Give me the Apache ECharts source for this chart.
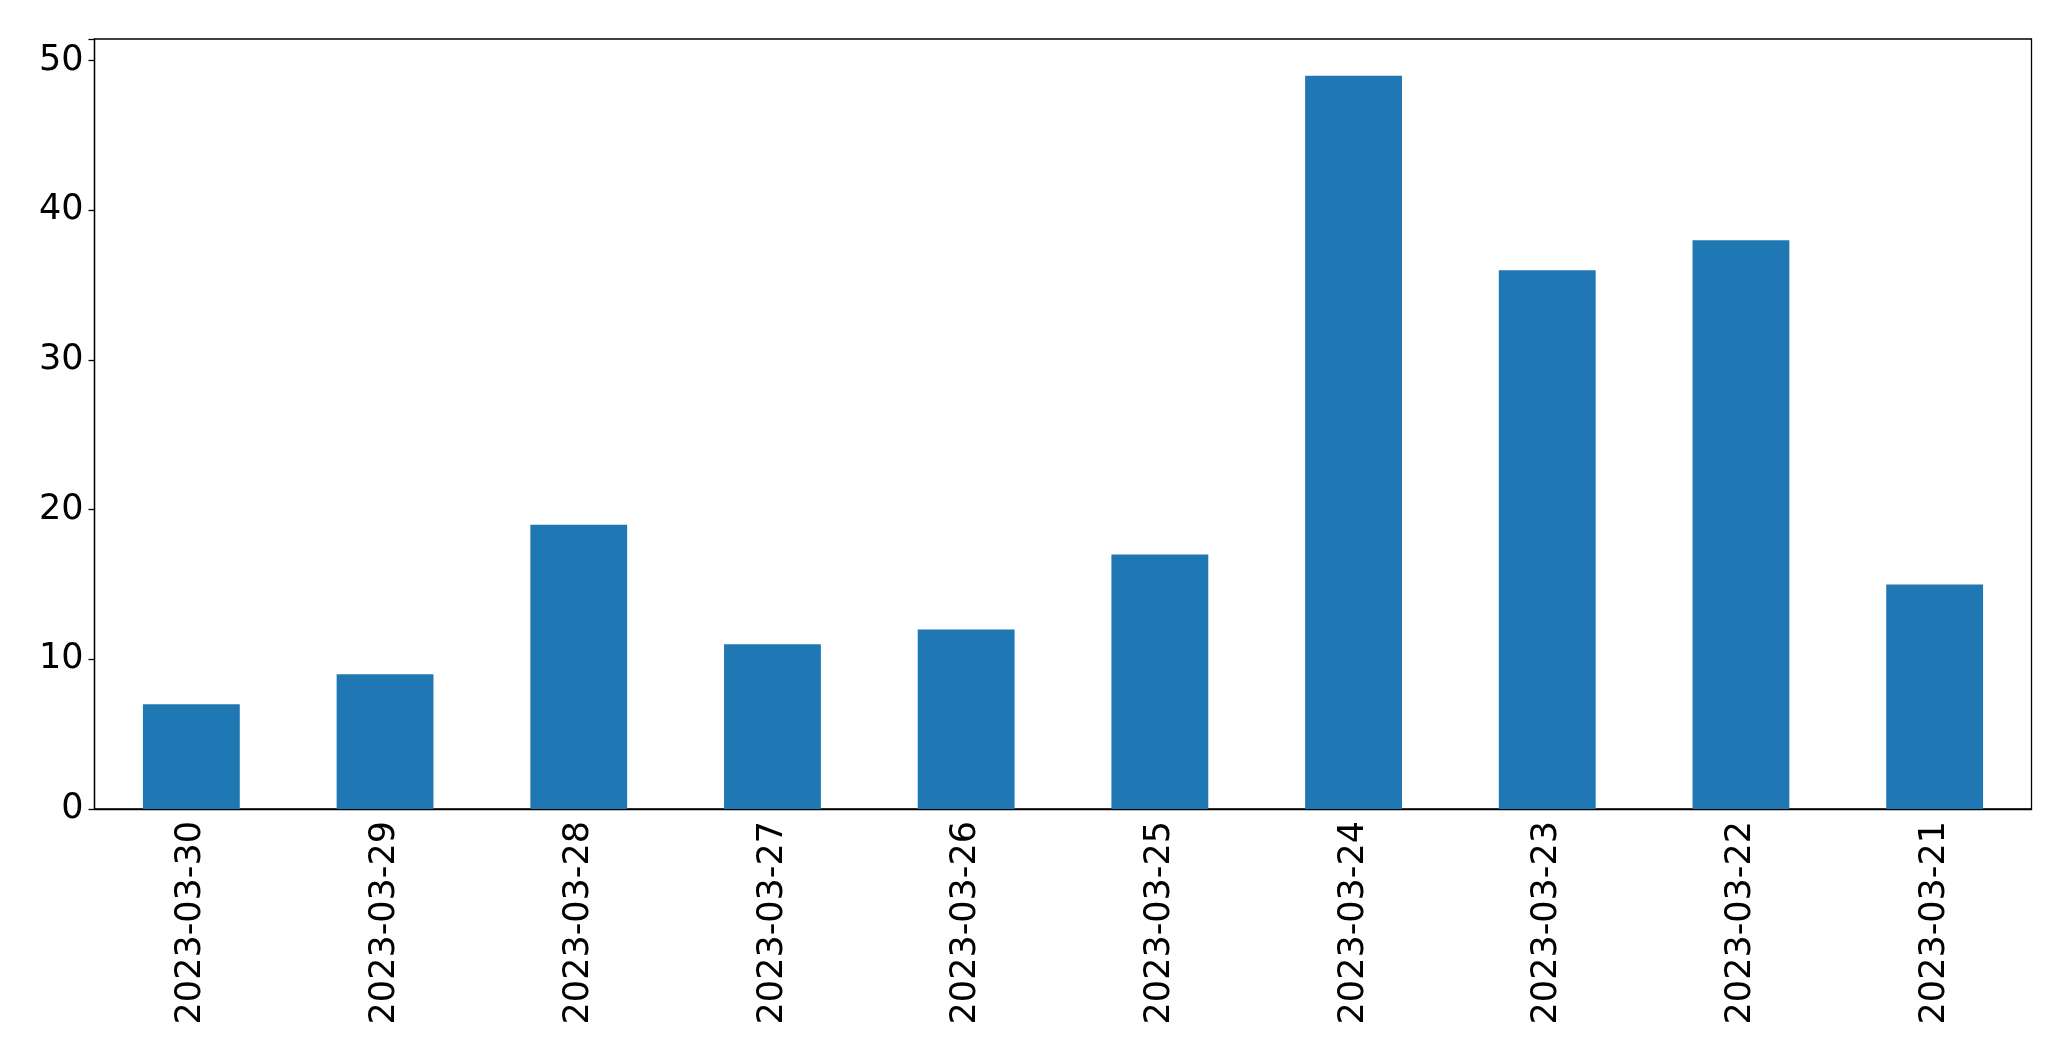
<!DOCTYPE html>
<html>
<head>
<meta charset="utf-8">
<script src="https://cdn.jsdelivr.net/npm/echarts@6/dist/echarts.min.js"></script>
<style>
html, body { margin: 0; padding: 0; background: #fff; }
#main { width: 2071px; height: 1061px; }
</style>
</head>
<body>
<div id="main"></div>
<script>
// 日期和数量
var dates = ['2023-03-30', '2023-03-29', '2023-03-28', '2023-03-27', '2023-03-26',
	'2023-03-25', '2023-03-24', '2023-03-23', '2023-03-22', '2023-03-21'];
var counts = [7, 9, 19, 11, 12, 17, 49, 36, 38, 15];
var yTicks = [0, 10, 20, 30, 40, 50];

var chart = echarts.init(document.getElementById('main'));

var font = 'DejaVu Sans';
var option = {
	animation: false,
	grid: {
		left: 94.5,
		right: 39.5,
		top: 39,
		bottom: 252,
		show: true,
		borderColor: '#000',
		borderWidth: 1.3
	},
	xAxis: {
		type: 'category',
		data: dates,
		axisLine: { lineStyle: { color: '#000', width: 1.3 } },
		axisTick: { alignWithLabel: true, length: 6, lineStyle: { color: '#000', width: 1.3 } },
		axisLabel: {
			rotate: 90,
			margin: 12,
			fontFamily: font,
			fontSize: 35,
			color: '#000'
		}
	},
	yAxis: {
		type: 'value',
		min: 0,
		max: 51.45,
		interval: 10,
		splitLine: { show: false },
		axisLine: { show: true, lineStyle: { color: '#000', width: 1.3 } },
		axisTick: { show: true, length: 6, lineStyle: { color: '#000', width: 1.3 } },
		axisLabel: {
			margin: 11,
			fontFamily: font,
			fontSize: 35,
			color: '#000',
			formatter: function (v) {
				return yTicks.indexOf(v) >= 0 ? String(v) : '';
			}
		}
	},
	series: [{
		type: 'bar',
		data: counts,
		barWidth: '50%',
		itemStyle: { color: '#1f77b4' }
	}]
};

chart.setOption(option);
</script>
</body>
</html>
